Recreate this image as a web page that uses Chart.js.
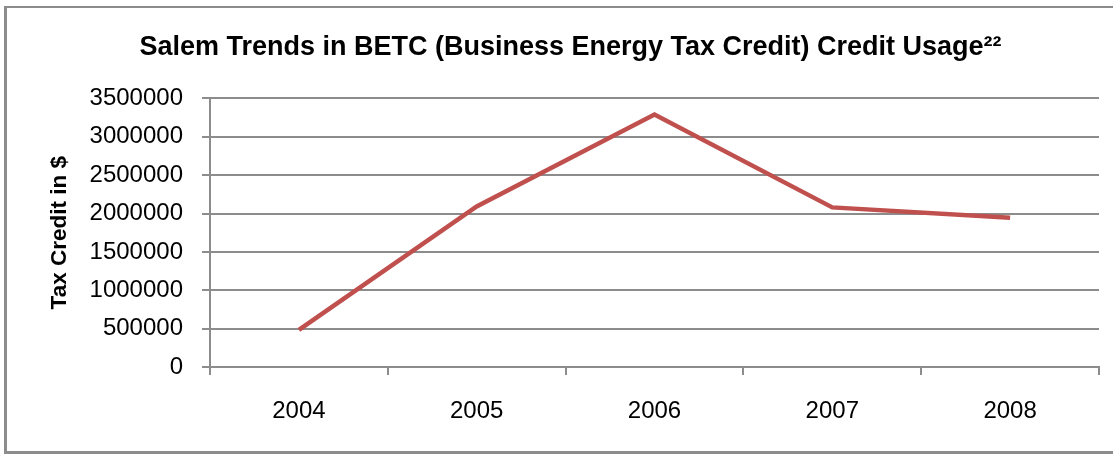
<!DOCTYPE html>
<html>
<head>
<meta charset="utf-8">
<script src="https://cdn.jsdelivr.net/npm/chart.js@4/dist/chart.umd.min.js"></script>
<style>
  html, body { margin: 0; padding: 0; background: #fff; overflow: hidden; }
  #wrap { position: relative; width: 1113px; height: 455px; }
  #frame {
    position: absolute; left: 4px; top: 6px; width: 1130px; height: 443px;
    border-top: 2px solid #8c8c8c; border-left: 3px solid #8c8c8c; border-bottom: 3px solid #8c8c8c;
    box-sizing: content-box;
  }
  canvas { position: absolute; left: 0; top: 0; }
</style>
</head>
<body>
<div id="wrap">
  <div id="frame"></div>
  <canvas id="c" width="1113" height="455"></canvas>
</div>
<script>
// Yearly BETC credit totals for Salem
const years = ['2004', '2005', '2006', '2007', '2008'];
const creditUsage = [483000, 2093000, 3290000, 2080000, 1946000];
const yTicks = [0, 500000, 1000000, 1500000, 2000000, 2500000, 3000000, 3500000];

const FONT = "'Liberation Sans', Arial, sans-serif";
const GRID = '#8c8c8c';

new Chart(document.getElementById('c'), {
  type: 'line',
  data: {
    labels: years,
    datasets: [{
      data: creditUsage,
      borderColor: '#C0504D',
      borderWidth: 4.5,
      pointRadius: 0,
      tension: 0,
      fill: false
    }]
  },
  options: {
    responsive: false,
    animation: false,
    layout: { padding: { left: 42, right: 14, top: 0, bottom: 0 } },
    plugins: {
      legend: { display: false },
      tooltip: { enabled: false },
      title: {
        display: true,
        text: 'Salem Trends in BETC (Business Energy Tax Credit) Credit Usage²²',
        color: '#000',
        font: { family: FONT, size: 27, weight: 'bold' },
        padding: { top: 31, bottom: 35 }
      }
    },
    scales: {
      x: {
        offset: true,
        grid: {
          offset: true,
          drawOnChartArea: false,
          drawTicks: true,
          tickLength: 8,
          color: GRID,
          lineWidth: 2
        },
        border: { display: true, color: GRID, width: 2 },
        ticks: {
          color: '#000',
          font: { family: FONT, size: 24 },
          padding: 22,
          maxRotation: 0
        },
        afterFit: (s) => { s.height = 88; }
      },
      y: {
        min: 0,
        max: 3500000,
        afterBuildTicks: (s) => { s.ticks = yTicks.map(v => ({ value: v })); },
        grid: {
          color: GRID,
          lineWidth: 2,
          drawTicks: true,
          tickLength: 8
        },
        border: { display: true, color: GRID, width: 2 },
        ticks: {
          color: '#000',
          font: { family: FONT, size: 24 },
          padding: 19,
          callback: (v) => String(v)
        },
        title: {
          display: true,
          text: 'Tax Credit in $',
          color: '#000',
          font: { family: FONT, size: 22.5, weight: 'bold' },
          padding: { top: 4, bottom: 0 }
        },
        afterFit: (s) => { s.width = 168; }
      }
    }
  }
});
</script>
</body>
</html>
